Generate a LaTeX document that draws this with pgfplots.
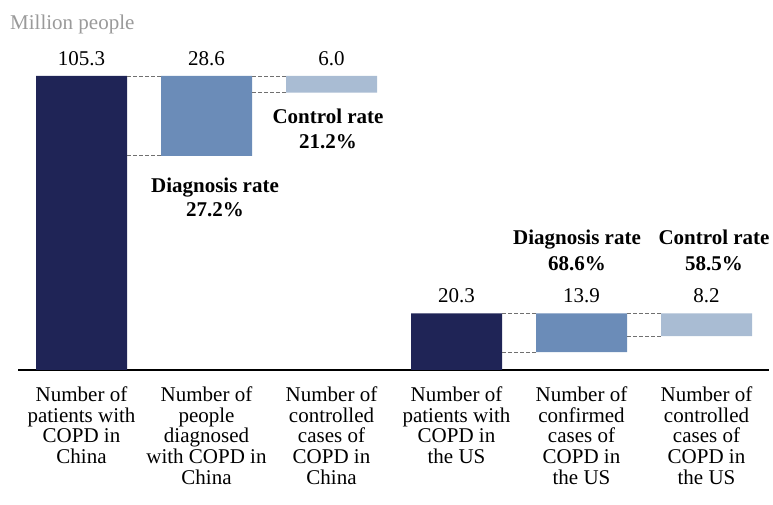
\documentclass[border=0pt]{standalone}
\usepackage{fontspec}
\setmainfont{Liberation Serif}
\usepackage{pgfplots}
\pgfplotsset{compat=1.18}
\definecolor{cnavy}{HTML}{1F2456}
\definecolor{cmid}{HTML}{6B8CB8}
\definecolor{clight}{HTML}{A9BCD3}
\definecolor{cgraytxt}{HTML}{9A9A9A}
\definecolor{cdash}{HTML}{707070}
\pgfplotsset{
  frame/.style={
    at={(18pt,135pt)}, anchor=south west,
    scale only axis, width=751pt, height=294pt,
    xmin=-0.508, xmax=5.5, ymin=0, ymax=105.3,
    clip=false,
  },
  dashc/.style={sharp plot, dash pattern=on 4pt off 2pt, cdash, line width=0.8pt, mark=none},
}
\begin{document}
\begin{tikzpicture}
\path[use as bounding box] (0,0) rectangle (773pt,505pt);
\begin{axis}[
  frame,
  ybar stacked, bar width=0.728,
  axis x line=bottom, axis y line=none,
  x axis line style={-, line width=1.1pt, black},
  major tick length=0,
  xtick={0,1,2,3,4,5},
  xticklabels={
    {Number of\\patients with\\COPD in\\China},
    {Number of\\people\\diagnosed\\with COPD in\\China},
    {Number of\\controlled\\cases of\\COPD in\\China},
    {Number of\\patients with\\COPD in\\the US},
    {Number of\\confirmed\\cases of\\COPD in\\the US},
    {Number of\\controlled\\cases of\\COPD in\\the US}},
  xticklabel style={anchor=north, inner sep=0pt, yshift=-16.5pt, align=center,
    font=\fontsize{21}{20.7}\selectfont},
]
% invisible base
\addplot[draw=none, fill=none] coordinates {(0,0) (1,76.7) (2,99.3) (3,0) (4,6.4) (5,12.1)};
% totals
\addplot[draw=none, fill=cnavy] coordinates {(0,105.3) (1,0) (2,0) (3,20.3) (4,0) (5,0)};
% diagnosed
\addplot[draw=none, fill=cmid] coordinates {(0,0) (1,28.6) (2,0) (3,0) (4,13.9) (5,0)};
% controlled
\addplot[draw=none, fill=clight] coordinates {(0,0) (1,0) (2,6.0) (3,0) (4,0) (5,8.2)};
\end{axis}
\begin{axis}[
  frame,
  hide axis,
]
% dashed connectors
\addplot[dashc] coordinates {(0.364,105.3) (0.636,105.3)};
\addplot[dashc] coordinates {(0.364,76.7) (0.636,76.7)};
\addplot[dashc] coordinates {(1.364,105.3) (1.636,105.3)};
\addplot[dashc] coordinates {(1.364,99.3) (1.636,99.3)};
\addplot[dashc] coordinates {(3.364,20.3) (3.636,20.3)};
\addplot[dashc] coordinates {(3.364,6.4) (3.636,6.4)};
\addplot[dashc] coordinates {(4.364,20.3) (4.636,20.3)};
\addplot[dashc] coordinates {(4.364,12.1) (4.636,12.1)};

% value labels
\node[anchor=base, inner sep=0pt, font=\fontsize{21}{21}\selectfont, yshift=10.5pt] at (axis cs:0,105.3) {105.3};
\node[anchor=base, inner sep=0pt, font=\fontsize{21}{21}\selectfont, yshift=10.5pt] at (axis cs:1,105.3) {28.6};
\node[anchor=base, inner sep=0pt, font=\fontsize{21}{21}\selectfont, yshift=10.5pt] at (axis cs:2,105.3) {6.0};
\node[anchor=base, inner sep=0pt, font=\fontsize{21}{21}\selectfont, yshift=11pt] at (axis cs:3,20.3) {20.3};
\node[anchor=base, inner sep=0pt, font=\fontsize{21}{21}\selectfont, yshift=11pt] at (axis cs:4,20.3) {13.9};
\node[anchor=base, inner sep=0pt, font=\fontsize{21}{21}\selectfont, yshift=11pt] at (axis cs:5,20.3) {8.2};

% rate annotations
\node[anchor=base, inner sep=0pt, font=\bfseries\fontsize{21}{21}\selectfont] at (axis cs:1.068,63.5) {Diagnosis rate};
\node[anchor=base, inner sep=0pt, font=\bfseries\fontsize{21}{21}\selectfont] at (axis cs:1.068,55.1) {27.2\%};
\node[anchor=base, inner sep=0pt, font=\bfseries\fontsize{21}{21}\selectfont] at (axis cs:1.972,88.4) {Control rate};
\node[anchor=base, inner sep=0pt, font=\bfseries\fontsize{21}{21}\selectfont] at (axis cs:1.972,79.2) {21.2\%};
\node[anchor=base, inner sep=0pt, font=\bfseries\fontsize{21}{21}\selectfont] at (axis cs:3.964,44.8) {Diagnosis rate};
\node[anchor=base, inner sep=0pt, font=\bfseries\fontsize{21}{21}\selectfont] at (axis cs:3.964,35.8) {68.6\%};
\node[anchor=base, inner sep=0pt, font=\bfseries\fontsize{21}{21}\selectfont] at (axis cs:5.06,44.8) {Control rate};
\node[anchor=base, inner sep=0pt, font=\bfseries\fontsize{21}{21}\selectfont] at (axis cs:5.06,35.8) {58.5\%};

\node[anchor=base west, inner sep=0pt, text=cgraytxt, font=\fontsize{21}{21}\selectfont] at (axis cs:-0.572,122.1) {Million people};
\end{axis}
\end{tikzpicture}
\end{document}
